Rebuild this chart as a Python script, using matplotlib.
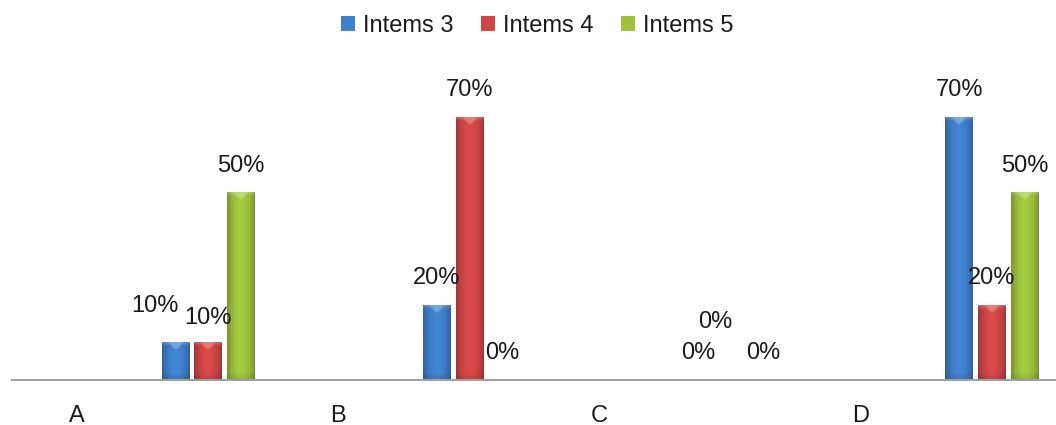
import numpy as np
import matplotlib
matplotlib.use("Agg")
import matplotlib.pyplot as plt
from matplotlib.patches import Rectangle
from matplotlib.colors import to_rgb

# ---- data ----
categories = ["A", "B", "C", "D"]
series_names = ["Intems 3", "Intems 4", "Intems 5"]
items3 = [0.10, 0.20, 0.00, 0.70]
items4 = [0.10, 0.70, 0.00, 0.20]
items5 = [0.50, 0.00, 0.00, 0.50]
series_values = [items3, items4, items5]

# ---- style ----
bar_colors = ["#3F7FCB", "#D04646", "#9CC23E"]
text_color = "#1a1a1a"
font = ["Liberation Sans", "DejaVu Sans"]
fsize = 17

plt.rcParams["font.family"] = font

W_PX, H_PX, DPI = 1056, 425, 100
fig = plt.figure(figsize=(W_PX / DPI, H_PX / DPI), dpi=DPI)

base_y = 380
px_per_unit_y = 375.0
ymax = 0.8
ax = fig.add_axes([12 / W_PX, (H_PX - base_y) / H_PX, 1045 / W_PX,
                   ymax * px_per_unit_y / H_PX])
ax.set_xlim(-0.5, len(categories) - 0.5)
ax.set_ylim(0, ymax)
ax.patch.set_alpha(0)

for s in ["top", "left", "right"]:
    ax.spines[s].set_visible(False)
ax.spines["bottom"].set_color("#a0a0a0")
ax.spines["bottom"].set_linewidth(1.5)
ax.set_yticks([])

x = np.arange(len(categories))
slot = 0.1255
bar_offsets = [1 * slot, 2 * slot, 3 * slot]
label_offset = -2 * slot
bar_w = 0.105

ax.set_xticks(x + label_offset)
ax.set_xticklabels(categories, fontsize=fsize, color=text_color)
ax.tick_params(axis="x", length=0, pad=18)


def shaded_bar(x0, x1, h, color):
    """Draw one bevelled bar as a shaded image inside its data rectangle."""
    p0 = ax.transData.transform((x0, 0))
    p1 = ax.transData.transform((x1, h))
    wpx = max(int(round(p1[0] - p0[0])), 2)
    hpx = max(int(round(p1[1] - p0[1])), 1)
    base = np.array(to_rgb(color))
    u = (np.arange(wpx) + 0.5) / wpx
    prof = 0.72 + 0.33 * np.sin(np.pi * u) ** 0.7
    img = np.ones((hpx, wpx, 3)) * base
    img *= prof[None, :, None]
    r = np.arange(hpx)[:, None] + 0.5
    # darker foot of the bar
    foot = np.clip(1 - (hpx - r) / 8.0, 0, 1)
    img *= (1 - 0.12 * foot)[:, :, None]
    # top bevel: soft light strip plus a small chevron
    bev = 9.0
    strip = np.clip(1 - r / 4.0, 0, 1)
    chev = np.clip(((bev - r) - np.abs(u[None, :] - 0.5) * wpx * 0.9) / 3.0,
                   0, 1)
    hl = np.clip(np.maximum(strip * 0.22, chev * 0.28), 0, 1)
    img = img * (1 - hl[:, :, None]) + hl[:, :, None]
    img = np.clip(img, 0, 1)
    ax.imshow(img, extent=(x0, x1, 0, h), aspect="auto",
              interpolation="bilinear", zorder=2, origin="upper")


for si, vals in enumerate(series_values):
    for ci, v in enumerate(vals):
        xc = x[ci] + bar_offsets[si]
        if v > 0:
            shaded_bar(xc - bar_w / 2, xc + bar_w / 2, v, bar_colors[si])

ax.set_xlim(-0.5, len(categories) - 0.5)
ax.set_ylim(0, ymax)

# value labels (pixel nudges for crowded ones)
nudges = {(0, 0): (-20, 36), (1, 0): (0, 24), (1, 2): (-15, 58)}
for si, vals in enumerate(series_values):
    for ci, v in enumerate(vals):
        xc = x[ci] + bar_offsets[si]
        dx, dy = nudges.get((si, ci), (0, 27))
        ax.annotate(f"{v:.0%}", xy=(xc, v), xytext=(dx, dy),
                    textcoords="offset pixels", ha="center", va="center",
                    fontsize=fsize, color=text_color, zorder=5,
                    annotation_clip=False)

# legend
handles = [Rectangle((0, 0), 1, 1, facecolor=c, edgecolor="none")
           for c in bar_colors]
fig.legend(handles, series_names, loc="center",
           bbox_to_anchor=(537 / W_PX, 1 - 26 / H_PX), ncol=3, frameon=False,
           fontsize=fsize, handlelength=0.62, handleheight=0.62,
           handletextpad=0.32, columnspacing=1.15, borderaxespad=0,
           labelcolor=text_color)

fig.savefig("out.png", dpi=DPI)
